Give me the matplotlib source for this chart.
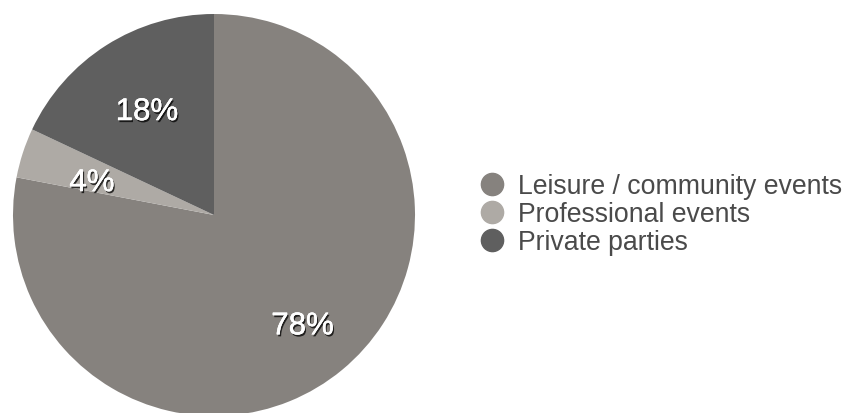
import matplotlib
matplotlib.use("Agg")
import matplotlib.pyplot as plt
import matplotlib.patheffects as pe
from matplotlib.lines import Line2D

# data
labels = ["Leisure / community events", "Professional events", "Private parties"]
shares = [78, 4, 18]
colors = ["#86827e", "#aeaaa5", "#5f5f5f"]

plt.rcParams['font.family'] = ['Liberation Sans', 'DejaVu Sans']

fig = plt.figure(figsize=(8.51, 4.14), dpi=100)
# square axes holding the pie, centre ~ (214, 215) px, radius ~201 px
ax = fig.add_axes([13 / 851, (414 - 216 - 201) / 414, 402 / 851, 402 / 414])

wedges, texts, autotexts = ax.pie(
    shares, colors=colors, startangle=90, counterclock=False,
    autopct='%d%%', pctdistance=0.66, radius=1,
    wedgeprops=dict(linewidth=0))
ax.set_xlim(-1, 1)
ax.set_ylim(-1, 1)
ax.set_aspect('equal')
ax.axis('off')

for t in autotexts:
    x, y = t.get_position()
    t.set_position((x + 0.02, y - 0.045))
    t.set_color('white')
    t.set_fontsize(22.5)
    t.set_path_effects([pe.withSimplePatchShadow(offset=(1, -1.5), shadow_rgbFace='black', alpha=0.75),
                        pe.withStroke(linewidth=0.25, foreground='white')])

handles = [Line2D([], [], marker='o', linestyle='none', markersize=16,
                  markerfacecolor=c, markeredgecolor=c) for c in colors]
fig.legend(handles, labels, loc='center left', bbox_to_anchor=(465 / 851, 1 - 215 / 414),
           frameon=False, fontsize=19.2, labelcolor='#4a4a4a',
           handletextpad=0.4, labelspacing=0.08, handlelength=1.2, borderaxespad=0)

fig.savefig("out.png", dpi=100)
